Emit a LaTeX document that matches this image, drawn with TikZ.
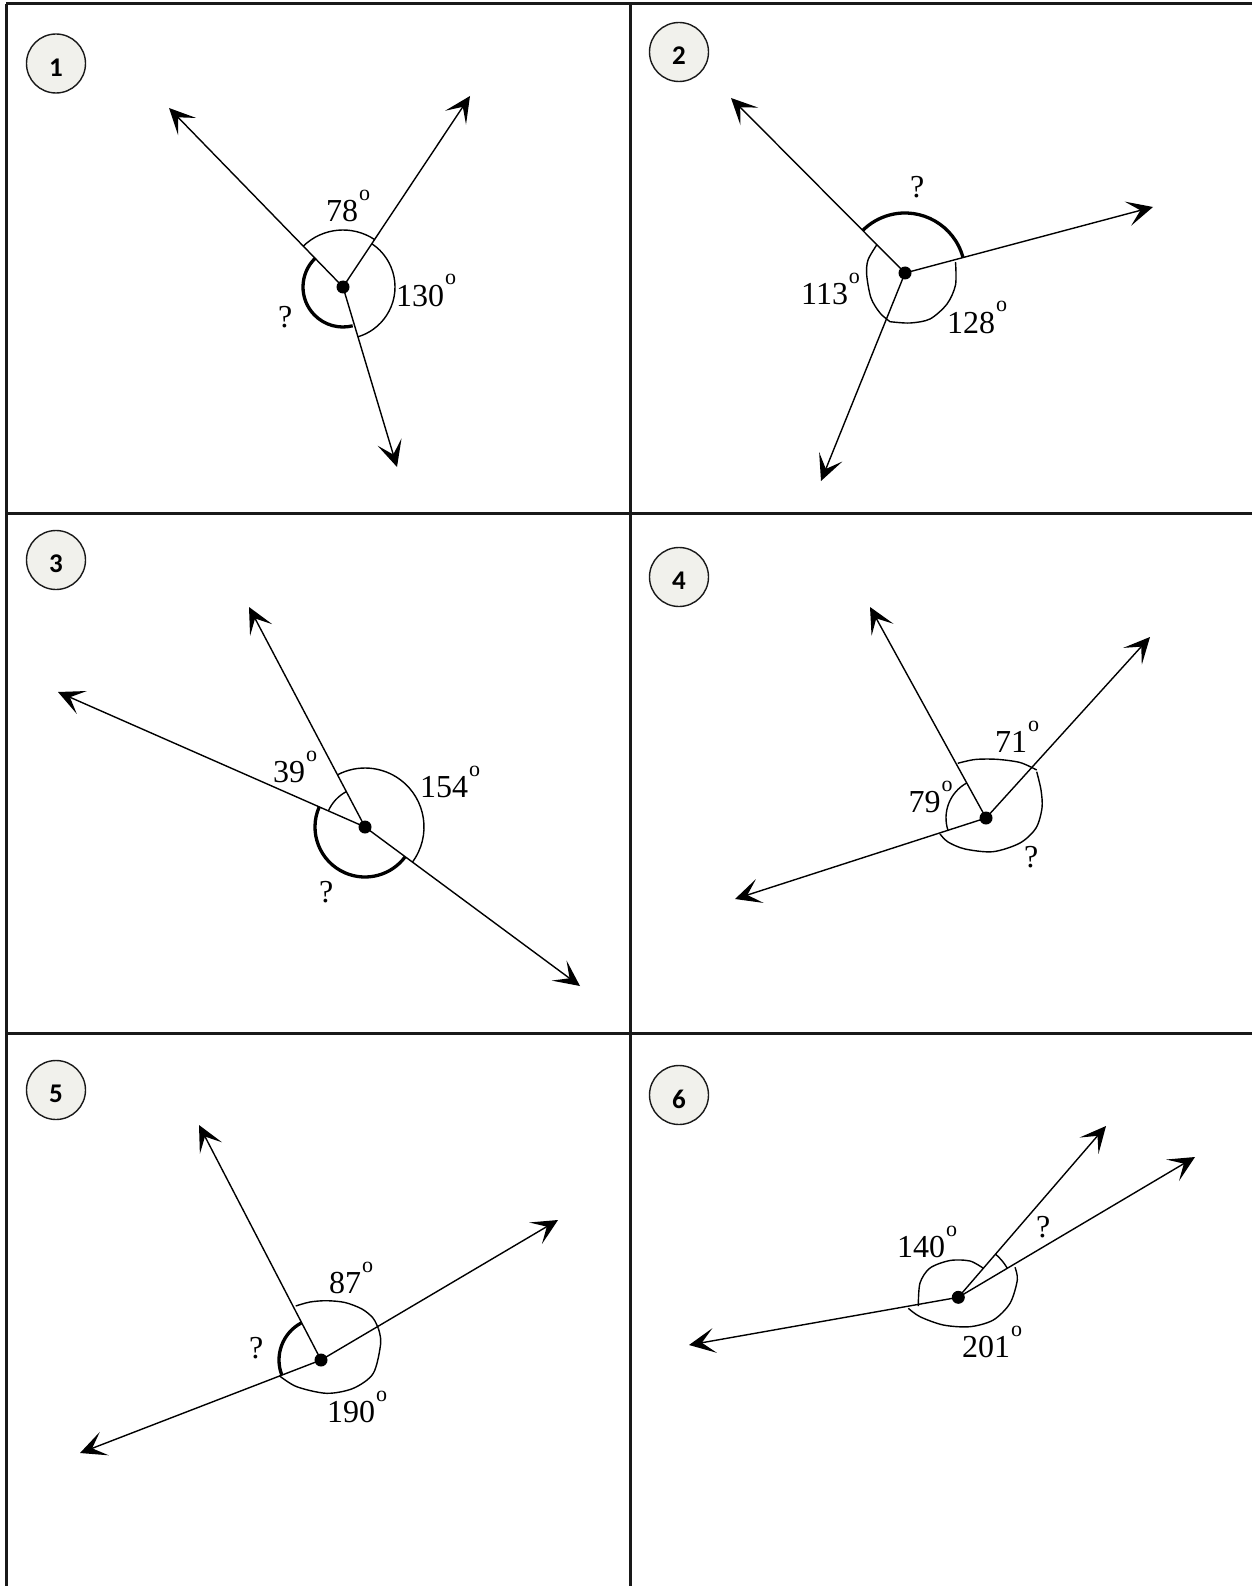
\documentclass[tikz,border=0pt]{standalone}
\usepackage{fontspec}
\setmainfont{Liberation Serif}
\newfontfamily\numfam{Carlito}
\usetikzlibrary{arrows.meta}
\definecolor{circfill}{RGB}{241,241,236}
\newcommand\dg{\kern0.8pt\raisebox{21pt}{\fontsize{22}{22}\selectfont o}}
\tikzset{
  frameline/.style={line width=3pt, color=black!90},
  ray/.style={line width=1.4pt, -{Stealth[length=26pt,width=25pt,inset=13pt]}},
  arcthin/.style={line width=1.4pt},
  arcthick/.style={line width=3.3pt},
  numcirc/.style={circle, draw=black!90, line width=1.4pt, fill=circfill, minimum size=59pt, inner sep=0pt},
  numtxt/.style={font=\numfam\bfseries\fontsize{27}{27}\selectfont, inner sep=0pt},
  lbl/.style={anchor=base west, inner sep=0pt, font=\fontsize{32}{32}\selectfont},
  dotc/.style={fill=black}
}
\begin{document}
\begin{tikzpicture}[x=1pt,y=1pt]
\useasboundingbox (0,0) rectangle (1252,-1586);
% frame
\draw[frameline] (6,-4) -- (1252,-4);
\draw[frameline] (6,-4) -- (6,-1586);
\draw[frameline] (630.5,-4) -- (630.5,-1586);
\draw[frameline] (6,-513) -- (1252,-513);
\draw[frameline] (6,-1033) -- (1252,-1033);
% number circles
\node[numcirc] (n1) at (56,-63.5) {};
\node[numtxt] (t1) at ([yshift=-4pt]n1.center) {1};
\node[numcirc] (n2) at (679,-52) {};
\node[numtxt] (t2) at ([yshift=-4pt]n2.center) {2};
\node[numcirc] (n3) at (56,-560) {};
\node[numtxt] (t3) at ([yshift=-4pt]n3.center) {3};
\node[numcirc] (n4) at (679,-577) {};
\node[numtxt] (t4) at ([yshift=-4pt]n4.center) {4};
\node[numcirc] (n5) at (56,-1090) {};
\node[numtxt] (t5) at ([yshift=-4pt]n5.center) {5};
\node[numcirc] (n6) at (679,-1095) {};
\node[numtxt] (t6) at ([yshift=-4pt]n6.center) {6};

% ===== Panel 1 =====
\coordinate (c1) at (343,-287);
\coordinate (p1a) at (169,-108);
\coordinate (p1b) at (470,-96);
\coordinate (p1c) at (397,-467);
\draw[arcthin] (c1) ++(56.4:57) arc[start angle=56.4, end angle=134.2, radius=57];
\draw[arcthin] (c1) ++(56.4:52) arc[start angle=56.4, end angle=-73.3, radius=52];
\draw[arcthick] (c1) ++(134.2:40) arc[start angle=134.2, end angle=284, radius=40];
\draw[ray] (c1) -- (p1a);
\draw[ray] (c1) -- (p1b);
\draw[ray] (c1) -- (p1c);
\fill[dotc] (c1) circle (6.5);
\node[lbl] (l1a) at (326,-222) {78\dg};
\node[lbl] (l1b) at (396,-306) {130\dg};
\node[lbl] (l1c) at (278,-327) {?};

% ===== Panel 2 =====
\coordinate (c2) at (905,-273);
\coordinate (p2a) at (731,-98);
\coordinate (p2b) at (1153,-207);
\coordinate (p2c) at (821,-481);
\draw[arcthick] (c2) ++(15:60) arc[start angle=15, end angle=135, radius=60];
\draw[arcthin] plot[smooth] coordinates {(876.7,-245) (868,-260) (866.7,-275) (871,-298) (880,-313) (890,-321.7)};
\draw[arcthin] plot[smooth] coordinates {(890,-321.7) (910,-323) (930,-319) (947,-304) (955.5,-285) (955.5,-262)};
\draw[ray] (c2) -- (p2a);
\draw[ray] (c2) -- (p2b);
\draw[ray] (c2) -- (p2c);
\fill[dotc] (c2) circle (6.5);
\node[lbl] (l2a) at (910,-198) {?};
\node[lbl] (l2b) at (801,-305) {113\dg};
\node[lbl] (l2c) at (947,-333) {128\dg};

% ===== Panel 3 =====
\coordinate (c3) at (365,-827);
\coordinate (p3a) at (249,-607);
\coordinate (p3b) at (58,-692);
\coordinate (p3c) at (580,-986);
\draw[arcthin] (c3) ++(117.7:40) arc[start angle=117.7, end angle=156.4, radius=40];
\draw[arcthin] (c3) ++(-36.5:59) arc[start angle=-36.5, end angle=117.7, radius=59];
\draw[arcthick] (c3) ++(156.4:50) arc[start angle=156.4, end angle=323.5, radius=50];
\draw[ray] (c3) -- (p3a);
\draw[ray] (c3) -- (p3b);
\draw[ray] (c3) -- (p3c);
\fill[dotc] (c3) circle (6.5);
\node[lbl] (l3a) at (273,-782) {39\dg};
\node[lbl] (l3b) at (420,-797) {154\dg};
\node[lbl] (l3c) at (319,-902) {?};

% ===== Panel 4 =====
\coordinate (c4) at (986,-818);
\coordinate (p4a) at (870,-607);
\coordinate (p4b) at (1150,-637);
\coordinate (p4c) at (735,-899);
\draw[arcthin] plot[smooth] coordinates {(957.7,-763.3) (975,-759.5) (996.7,-759.3) (1020,-762.5) (1036.7,-770)};
\draw[arcthin] (c4) ++(118.9:40) arc[start angle=118.9, end angle=198.1, radius=40];
\draw[arcthin] plot[smooth] coordinates {(1036.7,-771.7) (1041,-790) (1042,-808) (1036,-828) (1020,-843) (993,-851.7) (965,-849) (948,-842) (940,-834)};
\draw[ray] (c4) -- (p4a);
\draw[ray] (c4) -- (p4b);
\draw[ray] (c4) -- (p4c);
\fill[dotc] (c4) circle (6.5);
\node[lbl] (l4a) at (995,-752) {71\dg};
\node[lbl] (l4b) at (908.5,-812) {79\dg};
\node[lbl] (l4c) at (1024,-867) {?};

% ===== Panel 5 =====
\coordinate (c5) at (321,-1360);
\coordinate (p5a) at (199,-1125);
\coordinate (p5b) at (558,-1220);
\coordinate (p5c) at (80,-1453);
\draw[arcthin] plot[smooth] coordinates {(295.7,-1306) (310,-1302) (326.7,-1300.7) (345,-1302.5) (362,-1309) (373,-1318) (378.3,-1328.3)};
\draw[arcthin] plot[smooth] coordinates {(378.3,-1328.3) (380.7,-1343.3) (373.3,-1373.3) (353.3,-1388.3) (326.7,-1393.3) (296.7,-1386.7) (279.3,-1375.7)};
\draw[arcthick] (c5) ++(117.7:42) arc[start angle=117.7, end angle=201.2, radius=42];
\draw[ray] (c5) -- (p5a);
\draw[ray] (c5) -- (p5b);
\draw[ray] (c5) -- (p5c);
\fill[dotc] (c5) circle (6.5);
\node[lbl] (l5a) at (329,-1293) {87\dg};
\node[lbl] (l5b) at (327,-1422) {190\dg};
\node[lbl] (l5c) at (249,-1358) {?};

% ===== Panel 6 =====
\coordinate (c6) at (958.3,-1297.3);
\coordinate (p6a) at (1106,-1126);
\coordinate (p6b) at (1195,-1157);
\coordinate (p6c) at (689,-1345);
\draw[arcthin] plot[smooth] coordinates {(983.3,-1268.3) (970,-1261) (950,-1260.5) (930,-1268) (920,-1283) (918.3,-1306)};
\draw[arcthin] (c6) ++(30.6:57) arc[start angle=30.6, end angle=49.1, radius=57];
\draw[arcthin] plot[smooth] coordinates {(1015,-1267.3) (1017.3,-1280) (1010,-1303.3) (993.3,-1320) (970,-1326.7) (943.3,-1325) (920,-1316.7) (908.3,-1308.3)};
\draw[ray] (c6) -- (p6a);
\draw[ray] (c6) -- (p6b);
\draw[ray] (c6) -- (p6c);
\fill[dotc] (c6) circle (6.5);
\node[lbl] (l6a) at (897,-1257) {140\dg};
\node[lbl] (l6b) at (1036,-1237) {?};
\node[lbl] (l6c) at (962,-1357) {201\dg};
\end{tikzpicture}
\end{document}
